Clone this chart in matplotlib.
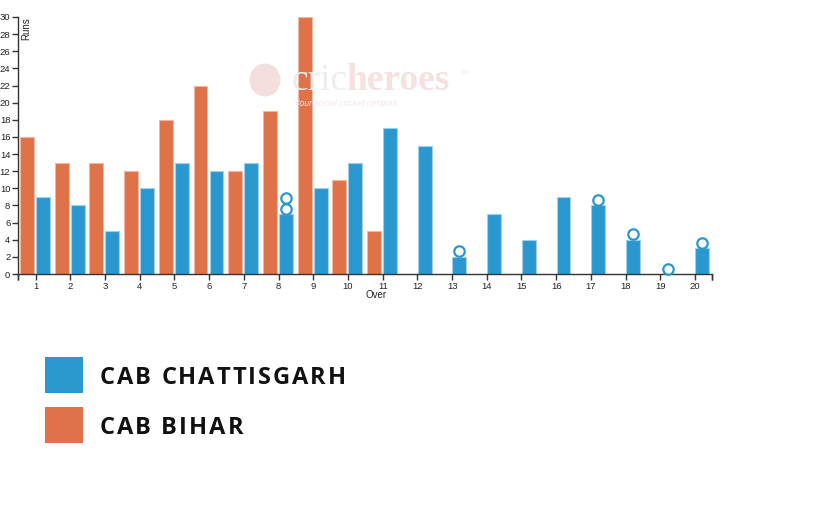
import matplotlib
matplotlib.use("Agg")
import matplotlib.pyplot as plt
from matplotlib.patches import Rectangle, Ellipse
from matplotlib.transforms import ScaledTranslation

overs = list(range(1, 21))
chattisgarh = [9, 8, 5, 10, 13, 12, 13, 7, 10, 13, 17, 15, 2, 7, 4, 9, 8, 4, 0, 3]
bihar_overs = list(range(1, 12))
bihar = [16, 13, 13, 12, 18, 22, 12, 19, 30, 11, 5]
wicket_overs = [8, 8, 13, 17, 18, 19, 20]
y_ticks = list(range(0, 31, 2))
team_names = ["CAB CHATTISGARH", "CAB BIHAR"]

BLUE = "#2a98cf"
ORANGE = "#e07249"
W, H = 820, 520
fig = plt.figure(figsize=(W / 100, H / 100), dpi=100)

def fx(px):
    return px / W

def fy(py):
    return 1 - py / H

ax = fig.add_axes([fx(18), fy(274), fx(712) - fx(18), fy(17) - fy(274)])
ax.set_xlim(0.49, 20.49)
ax.set_ylim(0, 30)
ax.patch.set_alpha(0)

# watermark
fig.patches.append(Ellipse((fx(265), fy(80)), 31 / W, 33 / H, transform=fig.transFigure,
                           facecolor="#f4dede", edgecolor="none", zorder=0))
fig.text(fx(292), fy(90), "cric", fontsize=27, family="Liberation Serif",
         color="#ececec", va="baseline", ha="left", zorder=0)
fig.text(fx(346), fy(90), "heroes", fontsize=27, family="Liberation Serif",
         weight="bold", color="#f6e0e0", va="baseline", ha="left", zorder=0,
         transform=fig.transFigure).set_stretch("expanded")
fig.text(fx(461), fy(74), "TM", fontsize=4, family="Liberation Sans",
         color="#f3e3e3", va="baseline", ha="left", zorder=0)
fig.text(fx(294), fy(99), "Your social cricket network", fontsize=6.3,
         style="italic", family="Liberation Sans", color="#f3e6e6",
         va="top", ha="left", zorder=0)

bw = 0.40
ax.bar([o - 0.45 for o in bihar_overs], bihar, width=bw, align="edge",
       color=ORANGE, edgecolor="#f0b8a2", linewidth=0.8, zorder=2)
ax.bar([o + 0.01 for o in overs], chattisgarh, width=bw, align="edge",
       color=BLUE, edgecolor="#9fd0ea", linewidth=0.8, zorder=2)

# wicket markers stacked above bar tops
counts = {}
for o in wicket_overs:
    k = counts.get(o, 0)
    counts[o] = k + 1
    dy = (5.5 + 11 * k) * 0.72 / 72
    tr = ax.transData + ScaledTranslation(0, dy, fig.dpi_scale_trans)
    ax.plot([o + 0.21], [chattisgarh[o - 1]], marker="o", markersize=7.5,
            markerfacecolor="white", markeredgecolor=BLUE, markeredgewidth=1.6,
            transform=tr, clip_on=False, zorder=4)

for s in ["top", "right"]:
    ax.spines[s].set_visible(False)
for s in ["left", "bottom"]:
    ax.spines[s].set_color("#333333")
    ax.spines[s].set_linewidth(1)

ax.set_xticks(overs)
ax.set_xticklabels([str(o) for o in overs])
ax.set_yticks(y_ticks)
ax.set_yticklabels([str(v) for v in y_ticks])
ax.tick_params(axis="both", direction="out", length=4, width=1, color="#333333",
               labelsize=6.8, labelcolor="#222222", pad=1.5)
for lab in ax.get_xticklabels() + ax.get_yticklabels():
    lab.set_family("Liberation Sans")

# outer ticks at end of x axis
for xe in ax.get_xlim():
    ax.plot([xe, xe], [0, 0], marker=3, markersize=4, color="#333333",
            markeredgewidth=1, clip_on=False, transform=ax.transData)

fig.text(fx(26), fy(17), "Runs", rotation=90, fontsize=7, family="Liberation Sans",
         ha="center", va="top", color="#222222")
fig.text(fx(376), fy(295), "Over", fontsize=7, family="Liberation Sans",
         ha="center", va="center", color="#222222")

# legend with letter spacing
renderer = fig.canvas.get_renderer()
spacing_px = 2.0
for i, (name, col) in enumerate(zip(team_names, [BLUE, ORANGE])):
    top = 357 + 50 * i
    fig.patches.append(Rectangle((fx(45), fy(top + 36)), 38 / W, 36 / H,
                                 transform=fig.transFigure, facecolor=col,
                                 edgecolor="none"))
    x = 100.0
    for ch in name:
        t = fig.text(fx(x), fy(top + 20.5), ch, fontsize=17, weight="bold",
                     family="Open Sans", ha="left", va="center", color="#111111")
        if ch == " ":
            w = 17 * 100 / 72 * 0.26
        else:
            w = t.get_window_extent(renderer).width
        x += w + spacing_px

fig.savefig("out.png", dpi=100)
